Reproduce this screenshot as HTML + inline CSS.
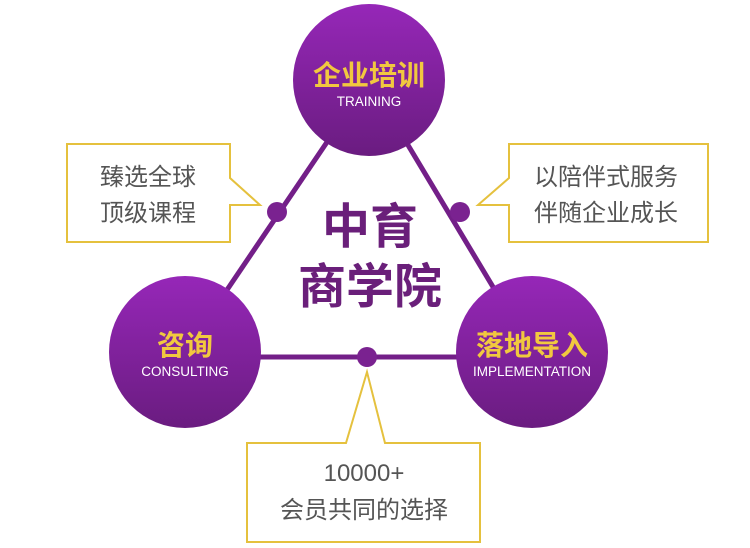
<!DOCTYPE html>
<html><head><meta charset="utf-8"><style>body{margin:0;background:#fff}svg{display:block}</style></head><body>
<svg width="750" height="548" viewBox="0 0 750 548" xmlns="http://www.w3.org/2000/svg" font-family="'Liberation Sans','Noto Sans CJK SC',sans-serif">
<defs><linearGradient id="g" x1="0" y1="0" x2="0" y2="1"><stop offset="0" stop-color="#9627b8"/><stop offset="1" stop-color="#6a1c80"/></linearGradient></defs>
<g stroke="#731f88" stroke-width="5">
<line x1="369" y1="80" x2="185" y2="352"/><line x1="369" y1="80" x2="532" y2="352"/><line x1="185" y1="357" x2="532" y2="357"/></g>
<g fill="#7a2290"><circle cx="277" cy="212" r="10"/><circle cx="460" cy="212" r="10"/><circle cx="367" cy="357" r="10"/></g>
<g fill="url(#g)"><circle cx="369" cy="80" r="76"/><circle cx="185" cy="352" r="76"/><circle cx="532" cy="352" r="76"/></g>
<g fill="#f1c83f" font-weight="bold" font-size="28" text-anchor="middle">
<text x="369" y="85">企业培训</text><text x="185" y="355">咨询</text><text x="532" y="355">落地导入</text></g>
<g fill="#fff" font-size="13.5" text-anchor="middle">
<text x="369" y="106">TRAINING</text><text x="185" y="376">CONSULTING</text><text x="532" y="376">IMPLEMENTATION</text></g>
<g fill="#fff" stroke="#e5c13e" stroke-width="2">
<path d="M67 144H230V178L260 205H230V242H67Z"/>
<path d="M509 144H708V242H509V205H478L509 178Z"/>
<path d="M247 443H346L367 372L385 443H480V542H247Z"/></g>
<g fill="#555" font-size="24" text-anchor="middle">
<text x="148" y="185">臻选全球</text><text x="148" y="221">顶级课程</text>
<text x="606" y="185">以陪伴式服务</text><text x="606" y="221">伴随企业成长</text>
<text x="364" y="481">10000+</text><text x="364" y="518">会员共同的选择</text></g>
<g fill="#6a1f7a" font-weight="bold" font-size="48" text-anchor="middle">
<text x="370" y="243">中育</text><text x="370" y="303">商学院</text></g>
</svg>
</body></html>
